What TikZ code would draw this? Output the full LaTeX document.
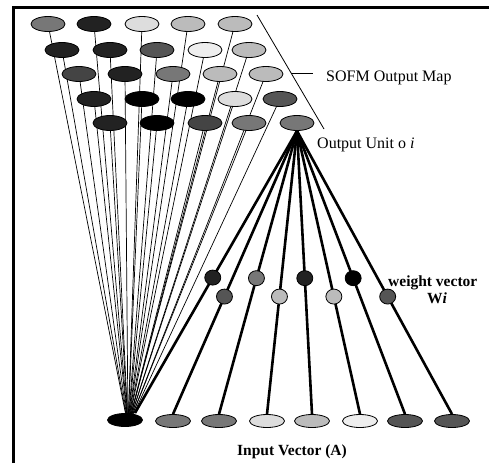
\documentclass[tikz,border=0pt]{standalone}
\usepackage{fontspec}
\setmainfont{Liberation Serif}
\usetikzlibrary{shapes.geometric,backgrounds,calc}
\definecolor{cA}{HTML}{222222}
\definecolor{cB}{HTML}{444444}
\definecolor{cC}{HTML}{555555}
\definecolor{cD}{HTML}{777777}
\definecolor{cE}{HTML}{BBBBBB}
\definecolor{cF}{HTML}{DDDDDD}
\definecolor{cG}{HTML}{EEEEEE}
\begin{document}
\begin{tikzpicture}[x=1pt,y=-1pt,
  unit/.style={ellipse,draw=black,line width=0.8pt,minimum width=34pt,minimum height=15pt,inner sep=0pt},
  inunit/.style={ellipse,draw=black,line width=0.8pt,minimum width=35pt,minimum height=13pt,inner sep=0pt},
  wunit/.style={ellipse,draw=black,line width=0.8pt,minimum width=16pt,minimum height=15pt,inner sep=0pt},
  thinlink/.style={line width=0.7pt},
  thicklink/.style={line width=2.6pt},
  lbl/.style={font=\fontsize{16}{19}\selectfont,inner sep=0pt,anchor=base west},
  blbl/.style={font=\fontsize{15.5}{19}\selectfont\bfseries,inner sep=0pt,anchor=base west}]
\useasboundingbox (0,0) rectangle (489,463);
% output map
\node[unit,fill=cD] (m11) at (48,24) {};
\node[unit,fill=cA] (m12) at (94,24) {};
\node[unit,fill=cF] (m13) at (142,24) {};
\node[unit,fill=cE] (m14) at (188,24) {};
\node[unit,fill=cE] (m15) at (235,24) {};
\node[unit,fill=cA] (m21) at (62,50) {};
\node[unit,fill=cA] (m22) at (110,50) {};
\node[unit,fill=cC] (m23) at (157,50) {};
\node[unit,fill=cG] (m24) at (205,50) {};
\node[unit,fill=cE] (m25) at (249,50) {};
\node[unit,fill=cB] (m31) at (79,74) {};
\node[unit,fill=cA] (m32) at (125,74) {};
\node[unit,fill=cD] (m33) at (173,74) {};
\node[unit,fill=cE] (m34) at (220,74) {};
\node[unit,fill=cE] (m35) at (266,74) {};
\node[unit,fill=cA] (m41) at (94,99) {};
\node[unit,fill=black] (m42) at (142,99) {};
\node[unit,fill=black] (m43) at (188,99) {};
\node[unit,fill=cF] (m44) at (235,99) {};
\node[unit,fill=cC] (m45) at (280,99) {};
\node[unit,fill=cA] (m51) at (110,123) {};
\node[unit,fill=black] (m52) at (157,123) {};
\node[unit,fill=cB] (m53) at (205,123) {};
\node[unit,fill=cD] (m54) at (249,123) {};
\node[unit,fill=cD] (o) at (297,123) {};
% input vector
\node[inunit,fill=black] (a1) at (125,420) {};
\node[inunit,fill=cD] (a2) at (173,421) {};
\node[inunit,fill=cD] (a3) at (219,421) {};
\node[inunit,fill=cF] (a4) at (267,421) {};
\node[inunit,fill=cE] (a5) at (312,421) {};
\node[inunit,fill=cG] (a6) at (360,421) {};
\node[inunit,fill=cC] (a7) at (405,421) {};
\node[inunit,fill=cC] (a8) at (452,421) {};
\coordinate (conv) at (128,426);
\coordinate (a1in) at (135,413);
% weights
\node[wunit,fill=cA] (w1) at ($(o.south)!0.52!(a1in)$) {};
\node[wunit,fill=cC] (w2) at ($(o.south)!0.585!(a2.north)$) {};
\node[wunit,fill=cD] (w3) at ($(o.south)!0.52!(a3.north)$) {};
\node[wunit,fill=cE] (w4) at ($(o.south)!0.585!(a4.north)$) {};
\node[wunit,fill=cA] (w5) at ($(o.south)!0.52!(a5.north)$) {};
\node[wunit,fill=cE] (w6) at ($(o.south)!0.585!(a6.north)$) {};
\node[wunit,fill=black] (w7) at ($(o.south)!0.52!(a7.north)$) {};
\node[wunit,fill=cC] (w8) at ($(o.south)!0.585!(a8.north)$) {};
\begin{pgfonlayer}{background}
\fill[white] (0,0) rectangle (489,463);
\draw[line width=3pt] (13,463) -- (13,7) -- (489,7);
\foreach \r in {1,...,5}{\foreach \c in {1,...,5}{
  \ifnum\r\c=55\else\draw[thinlink] (m\r\c.center) -- (conv);\fi}}
\draw[thicklink] (o.south) -- (a1in);
\foreach \k in {2,...,8}{\draw[thicklink] (o.south) -- (a\k.north);}
\end{pgfonlayer}
% map bracket
\coordinate (d1) at (257,15);
\coordinate (d2) at (324,129);
\coordinate (t1) at (291,73);
\coordinate (t2) at (313,73);
\draw[line width=0.8pt] (d1) -- (d2);
\draw[line width=0.8pt] (t1) -- (t2);
% labels
\node[lbl] (sofm) at (326,81) {SOFM Output Map};
\node[lbl] (outlbl) at (317,148) {Output Unit o \textit{i}};
\node[blbl] (wv) at (388,286) {weight vector};
\node[blbl] (wi) at (427,303) {W\textit{i}};
\node[blbl,anchor=base] (inlbl) at (292,455) {Input Vector (A)};
\end{tikzpicture}
\end{document}
